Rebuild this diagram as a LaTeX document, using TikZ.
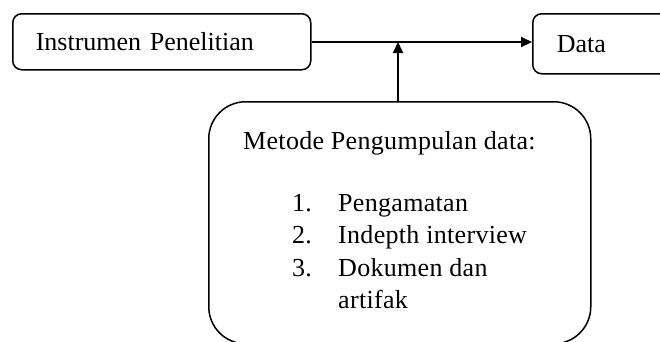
\documentclass[tikz,border=0pt]{standalone}
\usepackage{fontspec}
\setmainfont{Liberation Serif}
\newfontfamily\spacedfont{Liberation Serif}[LetterSpace=1.2]
\usetikzlibrary{arrows.meta}
\tikzset{
  box/.style={draw, line width=1.5pt, rounded corners=9pt, align=left, inner ysep=0pt,
    font=\fontsize{26}{31}\selectfont},
  bigbox/.style={draw, line width=1.5pt, rounded corners=37pt, inner sep=0pt},
  txt/.style={anchor=base west, inner sep=0pt, font=\fontsize{26}{31}\spacedfont},
  conn/.style={line width=2pt, -{Triangle[length=11pt,width=10pt]}}
}
\begin{document}
\begin{tikzpicture}[x=1pt,y=-1pt]
\useasboundingbox (0,0) rectangle (660,341);
\clip (0,0) rectangle (660,341);
\node[box, anchor=north west, minimum height=56pt, text width=252pt, inner xsep=23pt] (inst) at (12,13) {Instrumen Penelitian};
\node[box, anchor=north west, minimum height=60pt, text width=120pt, inner xsep=24pt] (data) at (532,13) {Data};
\node[bigbox, anchor=north west, minimum width=382pt, minimum height=242pt] (big) at (208,101) {};
\coordinate (j) at (398,42);
\draw[conn] (inst.east |- j) -- (data.west |- j);
\draw[conn] (j |- big.north) -- (j);
\node[txt] (t0) at (243,149) {Metode Pengumpulan data:};
\node[txt] (n1) at (292,211) {1.};
\node[txt] (i1) at (338,211) {Pengamatan};
\node[txt] (n2) at (292,243.5) {2.};
\node[txt] (i2) at (338,243.5) {Indepth interview};
\node[txt] (n3) at (292,276) {3.};
\node[txt] (i3) at (338,276) {Dokumen dan};
\node[txt] (i4) at (338,308) {artifak};
\end{tikzpicture}
\end{document}
